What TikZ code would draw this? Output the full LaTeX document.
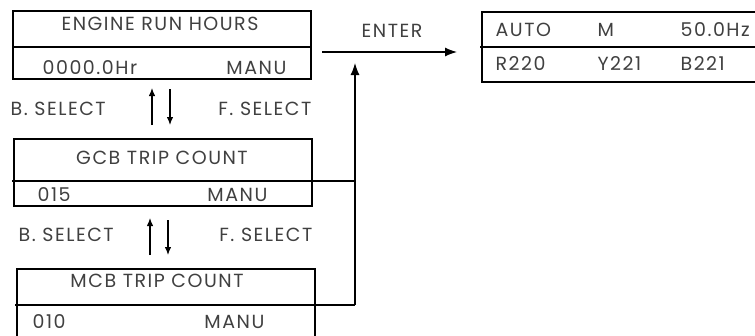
\documentclass[tikz,border=0pt]{standalone}
\usepackage{fontspec}
\setmainfont[LetterSpace=8]{Poppins}
\usetikzlibrary{arrows.meta}
\begin{document}
\begin{tikzpicture}[x=1pt,y=-1pt,line width=1.2pt,
  lbl/.style={font=\fontsize{19}{19}\selectfont,text=black!75,inner sep=0pt},
  bigarrow/.style={-{Latex[length=12pt,width=9pt]}},
  smallarrow/.style={-{Latex[length=8pt,width=6.5pt]}}]
\useasboundingbox (0,0) rectangle (755,335);
\clip (0,0) rectangle (755,335);
% boxes
\draw (13,11) rectangle (311,79);
\draw (13,47) -- (311,47);
\draw (14,139) rectangle (312,206);
\draw (17,269) rectangle (315,345);
\draw (482,12) rectangle (770,82);
\draw (480,47) -- (770,47);
% coordinates
\coordinate (gcbL) at (12,181);
\coordinate (gcbR) at (355,181);
\coordinate (mcbL) at (15,305);
\coordinate (mcbR) at (355,305);
\coordinate (vtop) at (355,63);
\coordinate (entS) at (322,52);
\coordinate (entE) at (457,52);
\coordinate (u1s) at (152,125); \coordinate (u1e) at (152,88);
\coordinate (d1s) at (170,89);  \coordinate (d1e) at (170,125);
\coordinate (u2s) at (150,255); \coordinate (u2e) at (150,218);
\coordinate (d2s) at (168,220); \coordinate (d2e) at (168,255);
\draw (gcbL) -- (gcbR);
\draw (mcbL) -- (mcbR);
\draw[bigarrow] (mcbR) -- (vtop);
\draw[bigarrow] (entS) -- (entE);
\draw[smallarrow] (u1s) -- (u1e);
\draw[smallarrow] (d1s) -- (d1e);
\draw[smallarrow] (u2s) -- (u2e);
\draw[smallarrow] (d2s) -- (d2e);
% texts
\node[lbl] (t1) at (160,24) {ENGINE RUN HOURS};
\node[lbl,anchor=west] (t1a) at (42,68) {0000.0Hr};
\node[lbl,anchor=east] (t1b) at (287,68) {MANU};
\node[lbl,anchor=west] (bs1) at (10,109) {B. SELECT};
\node[lbl,anchor=east] (fs1) at (312,109) {F. SELECT};
\node[lbl] (t2) at (162,158) {GCB TRIP COUNT};
\node[lbl,anchor=west] (t2a) at (37,195) {015};
\node[lbl,anchor=east] (t2b) at (268,195) {MANU};
\node[lbl,anchor=west] (bs2) at (18,235) {B. SELECT};
\node[lbl,anchor=east] (fs2) at (313,235) {F. SELECT};
\node[lbl] (t3) at (157,281) {MCB TRIP COUNT};
\node[lbl,anchor=west] (t3a) at (32,322) {010};
\node[lbl,anchor=east] (t3b) at (265,322) {MANU};
\node[lbl] (ent) at (392,31) {ENTER};
\node[lbl,anchor=west] (a1) at (495,30) {AUTO};
\node[lbl,anchor=west] (a2) at (597,30) {M};
\node[lbl,anchor=west] (a3) at (680,30) {50.0Hz};
\node[lbl,anchor=west] (b1) at (495,64) {R220};
\node[lbl,anchor=west] (b2) at (597,64) {Y221};
\node[lbl,anchor=west] (b3) at (680,64) {B221};
\end{tikzpicture}
\end{document}
